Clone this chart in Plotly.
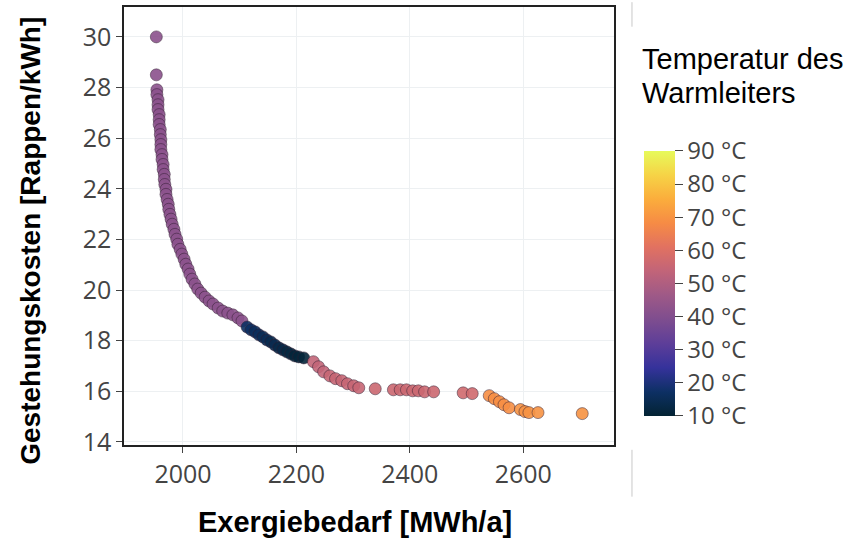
import plotly.graph_objects as go

# exergy demand [MWh/a], cost [Rappen/kWh], conductor temperature [°C]
exergie = [1953, 1953, 1954, 1954, 1956, 1956, 1956, 1958, 1958, 1958, 1960, 1960,
           1961, 1961, 1961, 1963, 1963, 1965, 1965, 1967, 1967, 1968, 1970, 1970,
           1972, 1974, 1975, 1977, 1979, 1981, 1984, 1986, 1989, 1991, 1995, 1998,
           2002, 2005, 2009, 2012, 2016, 2021, 2026, 2032, 2039, 2046, 2053, 2062,
           2070, 2079, 2088, 2097, 2104,
           2113, 2120, 2127, 2134, 2141, 2148, 2155, 2162, 2169, 2176, 2183, 2190,
           2197, 2204, 2213,
           2230, 2239, 2248, 2259, 2269, 2280, 2290, 2301, 2310, 2339, 2371, 2383,
           2394, 2405, 2415, 2426, 2442, 2494, 2510,
           2540, 2549, 2558, 2566, 2575, 2595, 2603, 2610, 2626, 2704]
kosten = [30.0, 28.5, 27.91, 27.72, 27.52, 27.32, 27.13, 26.93, 26.73, 26.54, 26.34, 26.14,
          25.94, 25.75, 25.55, 25.35, 25.16, 24.96, 24.76, 24.57, 24.37, 24.17, 23.98, 23.78,
          23.58, 23.39, 23.19, 22.99, 22.80, 22.60, 22.40, 22.20, 22.01, 21.81, 21.61, 21.42,
          21.22, 21.02, 20.83, 20.63, 20.43, 20.24, 20.04, 19.88, 19.72, 19.57, 19.45, 19.29,
          19.17, 19.09, 19.02, 18.90, 18.78,
          18.54, 18.43, 18.35, 18.23, 18.15, 18.03, 17.95, 17.83, 17.72, 17.64, 17.56, 17.48,
          17.40, 17.36, 17.32,
          17.17, 16.97, 16.77, 16.61, 16.50, 16.42, 16.30, 16.22, 16.14, 16.10, 16.06, 16.06,
          16.06, 16.02, 16.02, 15.98, 15.98, 15.94, 15.91,
          15.83, 15.71, 15.59, 15.47, 15.35, 15.28, 15.20, 15.16, 15.16, 15.12]
temperatur = [42] * 53 + \
             [17, 17, 16, 16, 15, 15, 14, 14, 13, 13, 12, 12, 11, 11, 11] + \
             [54, 54, 54, 55, 55, 55, 55, 55, 55, 56, 56, 56, 56, 56, 56, 56, 56, 57, 57] + \
             [69, 69, 69, 69, 69, 70, 70, 70, 70, 70]

cb_ticks = [10, 20, 30, 40, 50, 60, 70, 80, 90]
cb_labels = [f'{t} °C' for t in cb_ticks]

fig = go.Figure(go.Scatter(
    x=exergie, y=kosten, mode='markers',
    marker=dict(size=12, color=temperatur, colorscale='Thermal', cmin=10, cmax=90,
                opacity=0.9, line=dict(width=1, color='rgba(50,30,50,0.55)'),
                colorbar=dict(tickvals=cb_ticks, ticktext=cb_labels, ticks='outside',
                              ticklen=8, tickcolor='#444', outlinewidth=0,
                              thicknessmode='pixels', thickness=31,
                              lenmode='pixels', len=265,
                              x=1.061, xanchor='left', xpad=0,
                              y=0.369, yanchor='middle', ypad=0,
                              tickfont=dict(family='Open Sans', size=24, color='#444'))),
    showlegend=False))

axis_style = dict(showline=True, linecolor='#222', linewidth=1.5, mirror=True,
                  ticks='outside', ticklen=6, tickcolor='#444', showgrid=True,
                  gridcolor='#edf0f2', zeroline=False,
                  tickfont=dict(family='Open Sans', size=25, color='#444'))

fig.update_layout(width=864, height=542,
                  margin=dict(l=124, r=250, t=5, b=97),
                  plot_bgcolor='white', paper_bgcolor='white',
                  xaxis=dict(range=[1896, 2760], tickvals=[2000, 2200, 2400, 2600], **axis_style),
                  yaxis=dict(range=[13.88, 31.18], dtick=2, **axis_style))

fig.add_annotation(text='<b>Exergiebedarf [MWh/a]</b>', xref='paper', yref='paper',
                   x=0.471, y=-0.175, xanchor='center', yanchor='middle', showarrow=False,
                   font=dict(family='Liberation Sans, Arial', size=29, color='black'))
fig.add_annotation(text='<b>Gestehungskosten [Rappen/kWh]</b>', xref='paper', yref='paper',
                   x=-0.19, y=0.466, xanchor='center', yanchor='middle', textangle=-90,
                   showarrow=False,
                   font=dict(family='Liberation Sans, Arial', size=28, color='black'))
# colorbar title, two lines placed separately
for txt, yy in [('Temperatur des', 0.922), ('Warmleiters', 0.845)]:
    fig.add_annotation(text=txt, xref='paper', yref='paper', x=1.053, y=yy,
                       xanchor='left', yanchor='top', showarrow=False,
                       font=dict(family='Liberation Sans, Arial', size=29, color='black'))

# thin grey frame remnants right of the plot
for y0, y1 in [(0.955, 1.011), (-0.118, -0.011)]:
    fig.add_shape(type='line', xref='paper', yref='paper', x0=1.0367, x1=1.0367,
                  y0=y0, y1=y1, line=dict(color='#c8c8c8', width=1))

fig.write_html("out.html", config={'displayModeBar': False},
               post_script="document.body.style.margin='0';")
